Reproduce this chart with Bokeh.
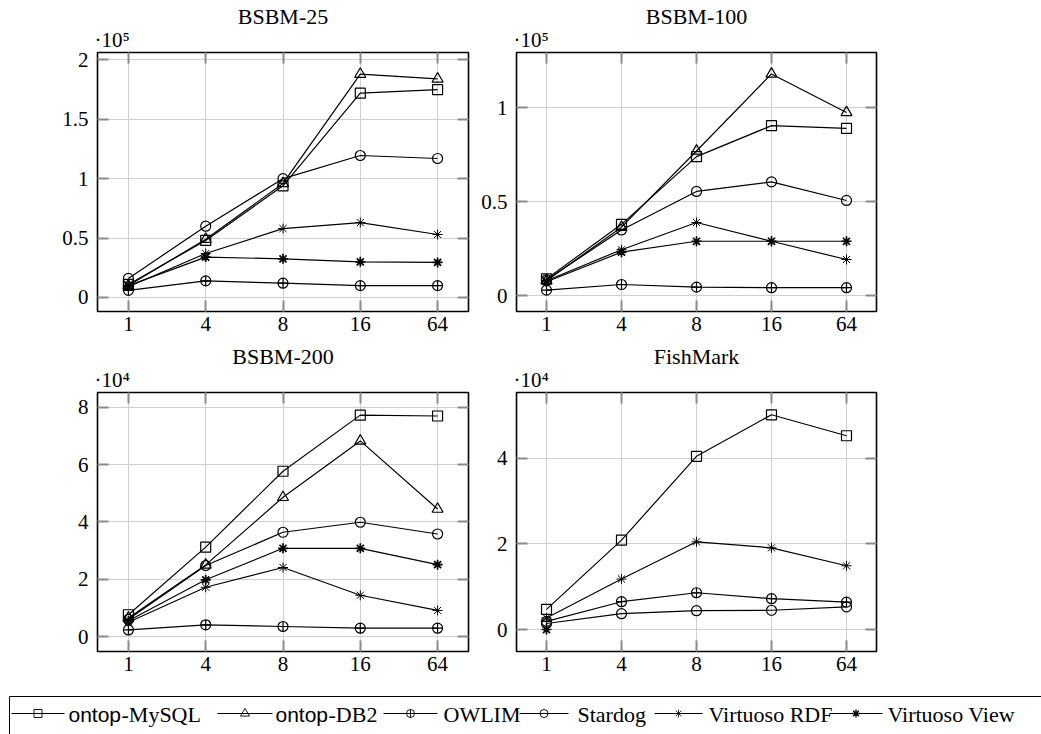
from bokeh.plotting import figure
from bokeh.layouts import column, row
from bokeh.models import Range1d, FixedTicker, LinearAxis, Title
from bokeh.embed import file_html
from bokeh.resources import INLINE
from bokeh.core.properties import value

NaN = float("nan")

# ---------------- data ----------------
threads = ["1", "4", "8", "16", "64"]
systems = ["ontop-MySQL", "ontop-DB2", "OWLIM", "Stardog", "Virtuoso RDF", "Virtuoso View"]

# BSBM-25 (values x 10^5)
bsbm25_mysql = [0.11, 0.48, 0.94, 1.72, 1.75]
bsbm25_db2 = [0.10, 0.49, 0.96, 1.88, 1.84]
bsbm25_owlim = [0.06, 0.14, 0.12, 0.10, 0.10]
bsbm25_stardog = [0.16, 0.60, 1.00, 1.195, 1.17]
bsbm25_rdf = [0.09, 0.37, 0.58, 0.63, 0.53]
bsbm25_view = [0.10, 0.34, 0.325, 0.30, 0.295]

# BSBM-100 (values x 10^5)
bsbm100_mysql = [0.09, 0.38, 0.74, 0.905, 0.89]
bsbm100_db2 = [0.08, 0.365, 0.77, 1.18, 0.975]
bsbm100_owlim = [0.03, 0.06, 0.046, 0.043, 0.043]
bsbm100_stardog = [0.085, 0.35, 0.555, 0.606, 0.507]
bsbm100_rdf = [0.08, 0.245, 0.39, 0.29, 0.193]
bsbm100_view = [0.075, 0.232, 0.29, 0.29, 0.29]

# BSBM-200 (values x 10^4)
bsbm200_mysql = [0.76, 3.12, 5.77, 7.73, 7.70]
bsbm200_db2 = [0.65, 2.50, 4.86, 6.83, 4.45]
bsbm200_owlim = [0.23, 0.41, 0.35, 0.29, 0.29]
bsbm200_stardog = [0.60, 2.48, 3.64, 3.99, 3.58]
bsbm200_rdf = [0.50, 1.72, 2.41, 1.44, 0.91]
bsbm200_view = [0.55, 1.98, 3.08, 3.08, 2.51]

# FishMark (values x 10^4)
fish_mysql = [0.47, 2.09, 4.05, 5.02, 4.53]
fish_db2 = [NaN, NaN, NaN, NaN, NaN]
fish_owlim = [0.19, 0.65, 0.86, 0.72, 0.64]
fish_stardog = [0.14, 0.37, 0.44, 0.45, 0.53]
fish_rdf = [0.27, 1.18, 2.05, 1.91, 1.49]
fish_view = [0.0, NaN, NaN, NaN, NaN]

titles = ["BSBM-25", "BSBM-100", "BSBM-200", "FishMark"]
exponents = ["\u00b710\u2075", "\u00b710\u2075", "\u00b710\u2074", "\u00b710\u2074"]
bsbm25_yticks = [0, 0.5, 1, 1.5, 2]
bsbm100_yticks = [0, 0.5, 1]
bsbm200_yticks = [0, 2, 4, 6, 8]
fish_yticks = [0, 2, 4]

panels_data = [
    [bsbm25_mysql, bsbm25_db2, bsbm25_owlim, bsbm25_stardog, bsbm25_rdf, bsbm25_view],
    [bsbm100_mysql, bsbm100_db2, bsbm100_owlim, bsbm100_stardog, bsbm100_rdf, bsbm100_view],
    [bsbm200_mysql, bsbm200_db2, bsbm200_owlim, bsbm200_stardog, bsbm200_rdf, bsbm200_view],
    [fish_mysql, fish_db2, fish_owlim, fish_stardog, fish_rdf, fish_view],
]
panels_yticks = [bsbm25_yticks, bsbm100_yticks, bsbm200_yticks, fish_yticks]

# ---------------- style ----------------
SERIF = "Liberation Serif"
SANS = "Liberation Sans"
TICK_FS = "21px"
TITLE_FS = "22px"
EXP_FS = "21px"
TICK_COLOR = "#8a8a8a"
GRID_COLOR = "#cfcfcf"

STYLE = {
    "ontop-MySQL": dict(marker="square", size=10, line_width=1.2),
    "ontop-DB2": dict(marker="triangle", size=11, line_width=1.2),
    "OWLIM": dict(marker="circle_cross", size=10, line_width=1.2),
    "Stardog": dict(marker="circle", size=10, line_width=1.2),
    "Virtuoso RDF": dict(marker="asterisk", size=10, line_width=1.0),
    "Virtuoso View": dict(marker="asterisk", size=10, line_width=1.7),
}

# layout per panel: y range, figure size, borders
LAYOUT = [
    dict(yr=(-0.118, 2.062), w=478, h=342, bl=97, br=10, bt=52, bb=31),
    dict(yr=(-0.0835, 1.294), w=563, h=342, bl=38, br=165, bt=52, bb=31),
    dict(yr=(-0.523, 8.52), w=478, h=340, bl=97, br=10, bt=50, bb=31),
    dict(yr=(-0.514, 5.541), w=563, h=340, bl=38, br=165, bt=50, bb=31),
]


def fmt(v):
    return ("%g" % v)


def style_axis(ax, labels=True):
    ax.axis_line_color = None
    ax.major_tick_in = 11
    ax.major_tick_out = 0
    ax.major_tick_line_color = TICK_COLOR
    ax.major_tick_line_width = 2
    ax.minor_tick_line_color = None
    ax.major_label_text_font = SERIF
    if labels:
        ax.major_label_text_font_size = TICK_FS
        ax.major_label_text_color = "black"
    else:
        ax.major_label_text_font_size = "1px"
        ax.major_label_text_color = None
        ax.major_label_standoff = 0


def make_panel(i):
    L = LAYOUT[i]
    xs = list(range(len(threads)))
    yticks = panels_yticks[i]
    p = figure(width=L["w"], height=L["h"], output_backend="svg", toolbar_location=None,
               tools="", x_range=Range1d(-0.4, len(threads) - 1 + 0.4),
               y_range=Range1d(*L["yr"]), title=titles[i],
               min_border_left=L["bl"], min_border_right=L["br"],
               min_border_top=L["bt"], min_border_bottom=L["bb"])
    p.outline_line_color = "black"
    p.outline_line_width = 1.6
    p.outline_line_alpha = 1.0
    p.background_fill_color = "white"
    p.border_fill_color = "white"

    p.title.align = "center"
    p.title.text_font = SERIF
    p.title.text_font_size = TITLE_FS
    p.title.text_font_style = "normal"
    p.title.text_color = "black"
    p.title.standoff = -9

    xt = FixedTicker(ticks=xs)
    yt = FixedTicker(ticks=yticks)
    p.xaxis.ticker = xt
    p.yaxis.ticker = yt
    p.xaxis.major_label_overrides = {x: t for x, t in zip(xs, threads)}
    p.yaxis.major_label_overrides = {float(v): fmt(v) for v in yticks}
    style_axis(p.xaxis[0])
    style_axis(p.yaxis[0])
    p.xaxis.major_label_standoff = 5
    p.yaxis.major_label_standoff = 9

    top = LinearAxis(ticker=FixedTicker(ticks=xs))
    style_axis(top, labels=False)
    p.add_layout(top, "above")
    right = LinearAxis(ticker=FixedTicker(ticks=yticks))
    style_axis(right, labels=False)
    p.add_layout(right, "right")

    p.add_layout(Title(text=exponents[i], align="left", offset=-3, standoff=2,
                       text_font=SERIF, text_font_size=EXP_FS, text_font_style="normal",
                       text_color="black"), "above")

    p.grid.grid_line_color = GRID_COLOR
    p.grid.grid_line_width = 1

    for name, vals in zip(systems, panels_data[i]):
        st = STYLE[name]
        p.line(xs, vals, line_color="black", line_width=1.2)
        p.scatter(xs, vals, marker=st["marker"], size=st["size"], line_color="black",
                  line_width=st["line_width"], fill_color=None)
    return p


panels = [make_panel(i) for i in range(4)]

# ---------------- legend ----------------
leg_names_sans = ["ontop", "ontop", "", "", "", ""]
leg_names_serif = ["-MySQL", "-DB2", "OWLIM", "Stardog", "Virtuoso RDF", "Virtuoso View"]
leg_line_x0 = [11, 217, 383, 519, 654, 829]
leg_line_x1 = [64, 272, 437, 568, 702, 882]
leg_text_x = [68, 275, 443, 577, 708, 887]
SANS_W = 53

LEG_H = 52          # legend strip starts at y=682 on the page
BOX_TOP = 14        # px below strip top
LINE_FROM_TOP = 31
TEXT_FROM_TOP = 32

leg = figure(width=1041, height=LEG_H, output_backend="svg", toolbar_location=None, tools="",
             x_range=Range1d(0, 1041), y_range=Range1d(0, LEG_H),
             x_axis_location=None, y_axis_location=None,
             min_border_left=0, min_border_right=0, min_border_top=0, min_border_bottom=0)
leg.grid.visible = False
leg.outline_line_color = None
leg.border_fill_color = "white"
leg.background_fill_color = "white"
leg.quad(left=[9], right=[1200], top=[LEG_H - BOX_TOP], bottom=[-20], fill_color=None,
         line_color="black", line_width=1)

LINE_Y = LEG_H - LINE_FROM_TOP
TEXT_Y = LEG_H - TEXT_FROM_TOP
for k, name in enumerate(systems):
    st = STYLE[name]
    leg.segment(x0=[leg_line_x0[k]], y0=[LINE_Y], x1=[leg_line_x1[k]], y1=[LINE_Y],
                line_color="black", line_width=1)
    xm = (leg_line_x0[k] + leg_line_x1[k]) / 2
    leg.scatter(x=[xm], y=[LINE_Y], marker=st["marker"], size=st["size"] - 2,
                line_color="black", line_width=max(0.8, st["line_width"] - 0.3), fill_color=None)
    tx = leg_text_x[k]
    if leg_names_sans[k]:
        leg.text(x=[tx], y=[TEXT_Y], text=[leg_names_sans[k]], text_font=value(SANS),
                 text_font_size="21px", text_baseline="alphabetic", text_align="left",
                 text_color="black")
        tx = tx + SANS_W
    leg.text(x=[tx], y=[TEXT_Y], text=[leg_names_serif[k]], text_font=value(SERIF),
             text_font_size="22px", text_baseline="alphabetic", text_align="left",
             text_color="black")

layout = column(row(panels[0], panels[1]), row(panels[2], panels[3]), leg)

open("out.html", "w").write(file_html(layout, INLINE))
